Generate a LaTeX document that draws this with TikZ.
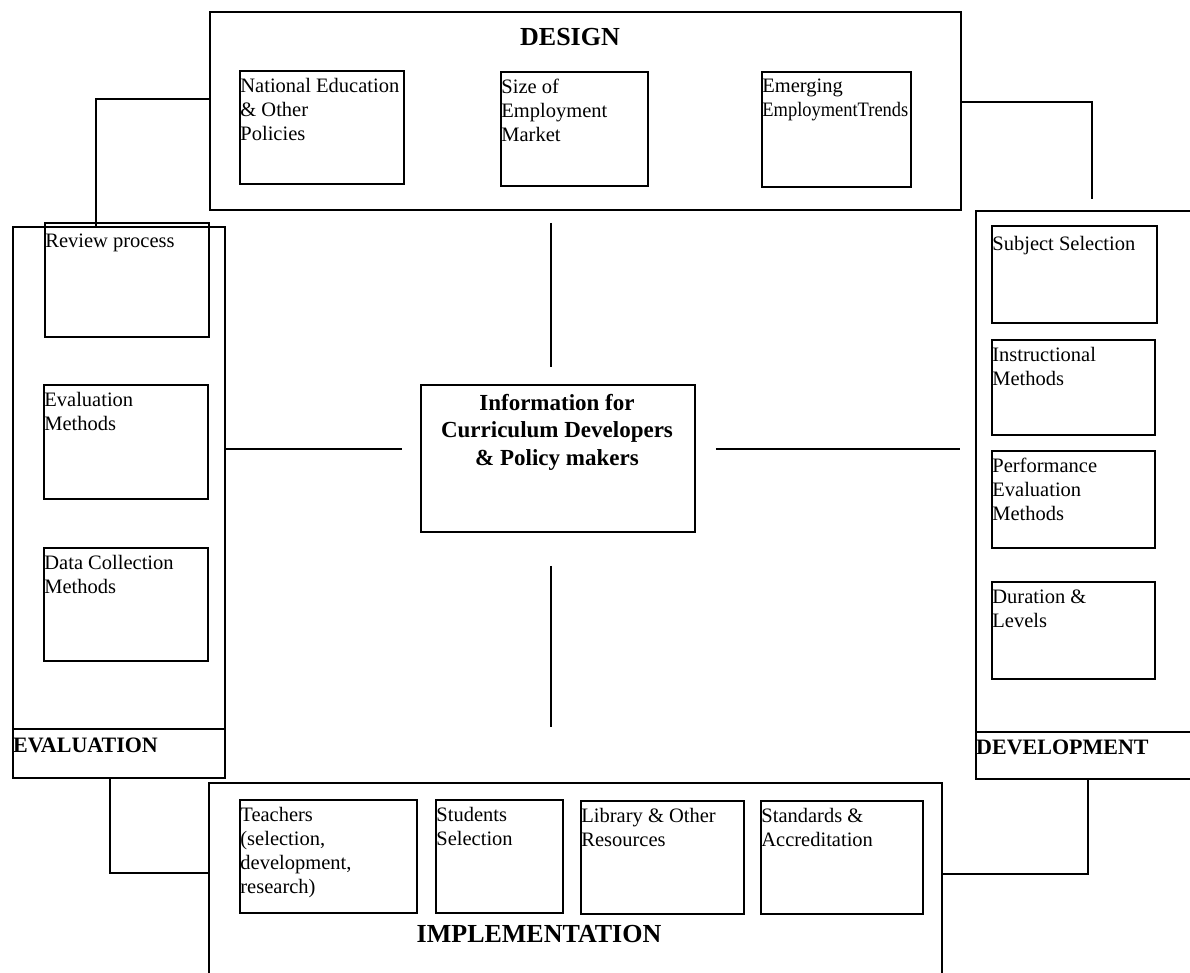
\documentclass[tikz,border=0pt]{standalone}
\usepackage{fontspec}
\setmainfont{Liberation Serif}
\usetikzlibrary{fit}

% A framed item box given by its two corners, with its text set at the top left
\newcommand\panelitem[6]{%
  \node[item, fit={(#2,#3) (#4,#5)}] (#1) {};
  \node[itemtext] (#1-text) at ([xshift=1pt,yshift=-8pt]#1.north west) {#6};%
}

\begin{document}
\begin{tikzpicture}[x=1pt,y=-1pt,
  frame/.style={draw, line width=1.6pt, inner sep=0pt},
  item/.style={draw, line width=1.6pt, inner sep=0pt},
  itemtext/.style={anchor=north west, align=left, inner sep=0pt,
    font=\fontsize{20.5}{24}\selectfont, execute at begin node=\strut},
  link/.style={line width=1.6pt},
  heading/.style={font=\bfseries\fontsize{26}{30}\selectfont, inner sep=0pt},
  sideheading/.style={font=\bfseries\fontsize{22}{26}\selectfont, inner sep=0pt, anchor=west},
]
\useasboundingbox (0,0) rectangle (1190,972);
\clip (0,0) rectangle (1190,972);

% ---- DESIGN ----
\node[frame, fit={(210,12) (961,210)}] (design) {};
\node[heading] (designlbl) at (570,37) {DESIGN};
\panelitem{policies}{240}{71}{404}{184}{National Education\\\& Other\\Policies}
\panelitem{market}{501}{72}{648}{186}{Size of\\Employment\\Market}
\panelitem{trends}{762}{72}{911}{187}{Emerging\\\scalebox{0.9}[1]{EmploymentTrends}}

% ---- EVALUATION ----
\node[frame, fit={(13,227) (225,778)}] (eval) {};
\coordinate (evaldiv) at (13,729);
\draw[link] (evaldiv) -- (evaldiv -| eval.east);
\node[sideheading] (evallbl) at (13,745) {EVALUATION};
\panelitem{review}{45}{223}{209}{337}{Review process}
\panelitem{evalmeth}{44}{385}{208}{499}{Evaluation\\Methods}
\panelitem{datacoll}{44}{548}{208}{661}{Data Collection\\Methods}

% ---- DEVELOPMENT ----
\node[frame, fit={(976,211) (1205,779)}] (dev) {};
\coordinate (devdiv) at (976,732);
\draw[link] (devdiv) -- (devdiv -| dev.east);
\node[sideheading] (devlbl) at (976,747) {DEVELOPMENT};
\panelitem{subject}{992}{226}{1157}{323}{Subject Selection}
\panelitem{instr}{992}{340}{1155}{435}{Instructional\\Methods}
\panelitem{perf}{992}{451}{1155}{548}{Performance\\Evaluation\\Methods}
\panelitem{duration}{992}{582}{1155}{679}{Duration \&\\Levels}

% ---- IMPLEMENTATION ----
\node[frame, fit={(209,783) (942,995)}] (impl) {};
\node[heading] (impllbl) at (539,934) {IMPLEMENTATION};
\panelitem{teachers}{240}{800}{417}{913}{Teachers\\(selection,\\development,\\research)}
\panelitem{students}{436}{800}{563}{913}{Students\\Selection}
\panelitem{library}{581}{801}{744}{914}{Library \& Other\\Resources}
\panelitem{standards}{761}{801}{923}{914}{Standards \&\\Accreditation}

% ---- centre ----
\node[item, fit={(421,385) (695,532)}] (info) {};
\node[anchor=north, align=center, inner sep=0pt,
  font=\bfseries\fontsize{23}{27.5}\selectfont, execute at begin node=\strut]
  (infotext) at (557,394) {Information for\\Curriculum Developers\\\& Policy makers};

% ---- connectors ----
\coordinate (hub) at (551,449);
\draw[link] ([yshift=-12pt]hub |- design.south) -- ([yshift=17pt]hub |- info.north);
\draw[link] ([yshift=-33pt]hub |- info.south) -- ([yshift=2pt]hub |- evaldiv);
\draw[link] (eval.east |- hub) -- ([xshift=-18pt]info.west |- hub);
\draw[link] ([xshift=20pt]info.east |- hub) -- ([xshift=-15pt]dev.west |- hub);

\coordinate (elbowL) at (96,99);
\draw[link] (design.west |- elbowL) -- (elbowL) -- (elbowL |- eval.north);
\coordinate (elbowR) at (1092,102);
\draw[link] (design.east |- elbowR) -- (elbowR) -- ([yshift=11pt]elbowR |- dev.north);
\coordinate (elbowBL) at (110,873);
\draw[link] (elbowBL |- eval.south) -- (elbowBL) -- (elbowBL -| impl.west);
\coordinate (elbowBR) at (1088,874);
\draw[link] (elbowBR |- dev.south) -- (elbowBR) -- (elbowBR -| impl.east);
\end{tikzpicture}
\end{document}
